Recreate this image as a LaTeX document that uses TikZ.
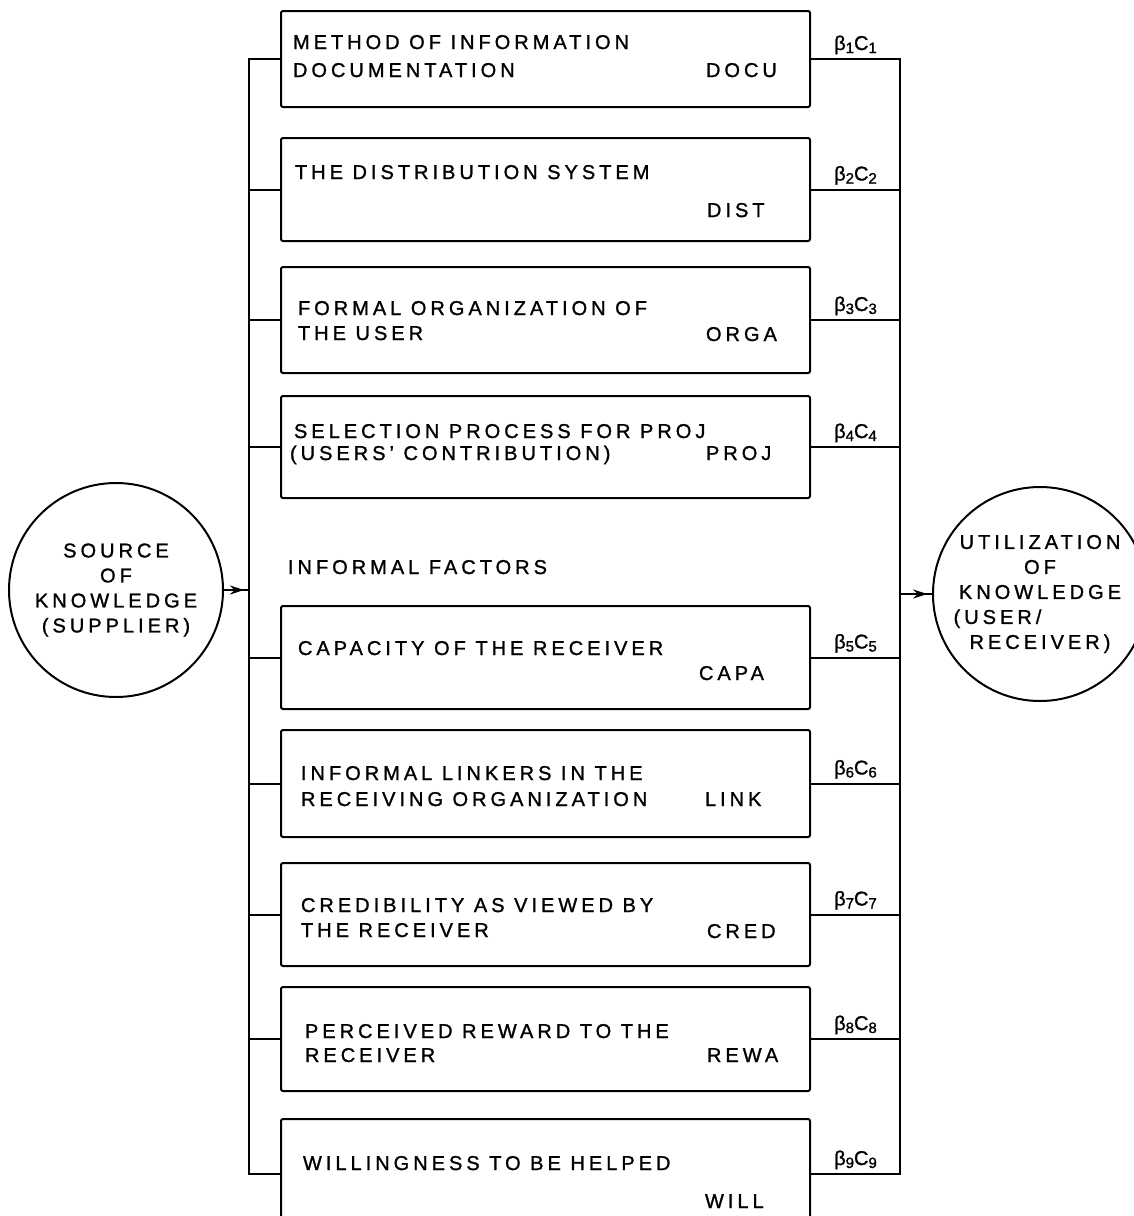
\documentclass[tikz,border=0pt]{standalone}
\usepackage{fontspec}
\setmainfont{Liberation Sans}[LetterSpace=20, FakeBold=1.2]
\usetikzlibrary{arrows.meta,calc}
\begin{document}
\begin{tikzpicture}[x=1pt,y=-1pt, line width=2pt,
  fbox/.style={draw, line width=2pt, rounded corners=2pt, minimum width=529pt, anchor=north west, inner sep=0pt},
  txt/.style={anchor=base west, inner sep=0pt, font=\fontsize{20}{22}\selectfont},
  lab/.style={anchor=base, inner sep=0pt, font=\fontsize{20}{22}\selectfont},
  circ/.style={draw, line width=2pt, circle, minimum size=214pt, inner sep=0pt, align=center, font=\fontsize{20}{25}\selectfont},
  conn/.style={line width=2pt},
  tip/.style={line width=2pt, -{Stealth[length=14pt,width=9pt]}}]
\useasboundingbox (0,0) rectangle (1134,1216);
% boxes
\node[fbox, minimum height=96pt]  (b1) at (280,10) {};
\node[fbox, minimum height=103pt] (b2) at (280,137) {};
\node[fbox, minimum height=106pt] (b3) at (280,266) {};
\node[fbox, minimum height=102pt] (b4) at (280,395) {};
\node[fbox, minimum height=103pt] (b5) at (280,605) {};
\node[fbox, minimum height=107pt] (b6) at (280,729) {};
\node[fbox, minimum height=103pt] (b7) at (280,862) {};
\node[fbox, minimum height=104pt] (b8) at (280,986) {};
\node[fbox, minimum height=110pt] (b9) at (280,1118) {};
% texts
\node[txt] (t1a) at (292,49) {METHOD OF INFORMATION};
\node[txt] (t1b) at (292,77) {DOCUMENTATION};
\node[txt] (c1) at (705,77) {DOCU};
\node[txt] (t2a) at (294,179) {THE DISTRIBUTION SYSTEM};
\node[txt] (c2) at (706,217) {DIST};
\node[txt] (t3a) at (297,315) {FORMAL ORGANIZATION OF};
\node[txt] (t3b) at (297,340) {THE USER};
\node[txt] (c3) at (705,341) {ORGA};
\node[txt] (t4a) at (293,438) {SELECTION PROCESS FOR PROJ};
\node[txt] (t4b) at (289,460) {(USERS' CONTRIBUTION)};
\node[txt] (c4) at (705,460) {PROJ};
\node[txt] (inf) at (287,574) {INFORMAL FACTORS};
\node[txt] (t5a) at (297,655) {CAPACITY OF THE RECEIVER};
\node[txt] (c5) at (698,680) {CAPA};
\node[txt] (t6a) at (300,780) {INFORMAL LINKERS IN THE};
\node[txt] (t6b) at (300,806) {RECEIVING ORGANIZATION};
\node[txt] (c6) at (704,806) {LINK};
\node[txt] (t7a) at (300,912) {CREDIBILITY AS VIEWED BY};
\node[txt] (t7b) at (300,937) {THE RECEIVER};
\node[txt] (c7) at (706,938) {CRED};
\node[txt] (t8a) at (304,1038) {PERCEIVED REWARD TO THE};
\node[txt] (t8b) at (304,1062) {RECEIVER};
\node[txt] (c8) at (706,1062) {REWA};
\node[txt] (t9a) at (302,1170) {WILLINGNESS TO BE HELPED};
\node[txt] (c9) at (704,1208) {WILL};
% circles
\node[circ] (src) at (116,590) {SOURCE\\OF\\KNOWLEDGE\\(SUPPLIER)};
\node[circ] (dst) at (1040,594) {UTILIZATION\\OF\\KNOWLEDGE\\(USER/\rule{85pt}{0pt}\\RECEIVER)};
% buses
\coordinate (lbus) at (249,0);
\coordinate (rbus) at (900,0);
\draw[conn] (b1.west) -- (b1.west -| lbus) -- (b9.west -| lbus) -- (b9.west);
\foreach \i in {2,...,8} \draw[conn] (b\i.west) -- (b\i.west -| lbus);
\draw[conn] (b1.east) -- (b1.east -| rbus) -- (b9.east -| rbus) -- (b9.east);
\foreach \i in {2,...,8} \draw[conn] (b\i.east) -- (b\i.east -| rbus);
% labels
\foreach \i in {1,...,9}
  \node[lab] (l\i) at ($(b\i.east)!0.5!(b\i.east -| rbus) + (0,-9)$) {β\raisebox{-3pt}{\fontsize{15}{16}\selectfont\i}C\raisebox{-3pt}{\fontsize{15}{16}\selectfont\i}};
% arrows
\coordinate (jl) at (lbus |- src.east);
\coordinate (jr) at (rbus |- dst.west);
\draw[conn] (src.east) -- (jl);
\draw[tip] (src.east) -- ($(src.east)!0.8!(jl)$);
\draw[conn] (jr) -- (dst.west);
\draw[tip] (jr) -- ($(jr)!0.85!(dst.west)$);
\end{tikzpicture}
\end{document}
